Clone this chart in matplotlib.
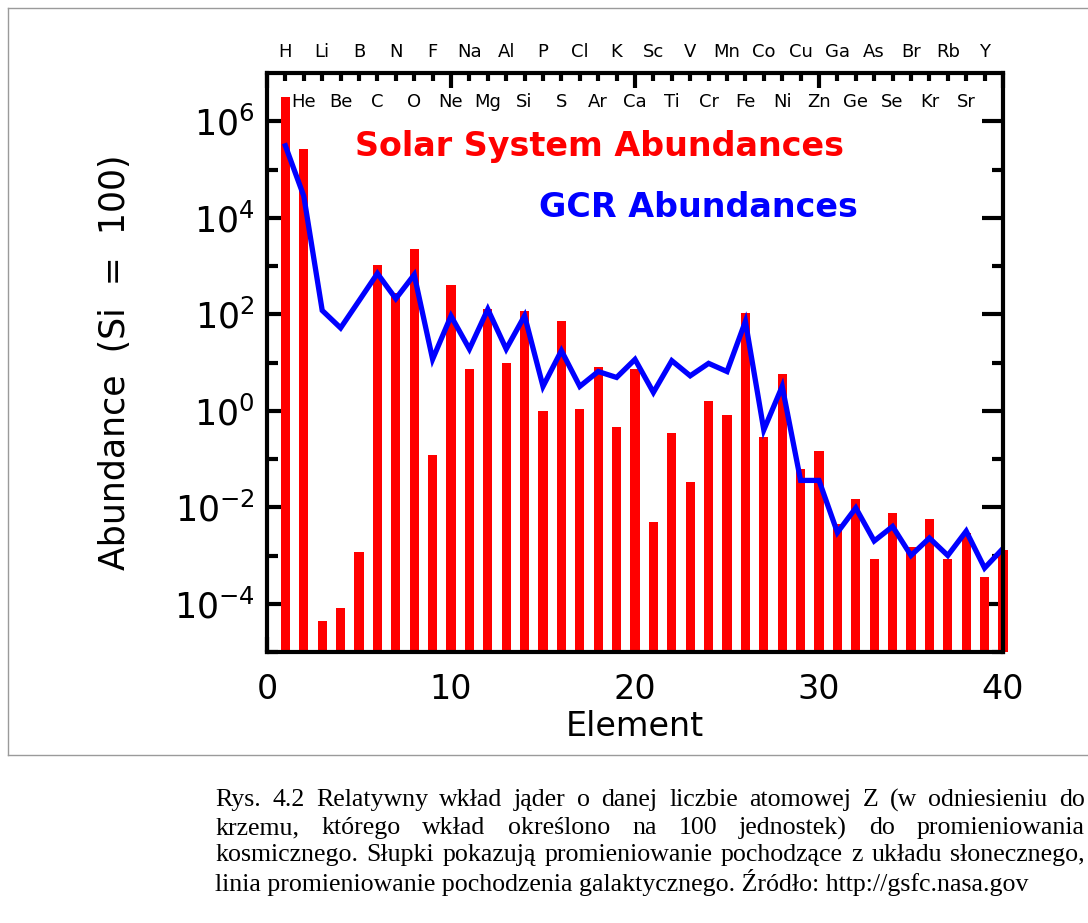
import matplotlib
matplotlib.use("Agg")
import matplotlib.pyplot as plt
import numpy as np
from matplotlib.ticker import FixedLocator, NullFormatter
from matplotlib.lines import Line2D

# ---------------- data ----------------
Z = list(range(1, 41))
solar = [3.2e6, 2.6e5, 4.3e-5, 8.3e-5, 1.2e-3, 1.05e3, 2.7e2, 2.2e3, 0.12, 4.0e2,
         7.3, 1.27e2, 9.8, 1.15e2, 0.97, 71, 1.08, 7.9, 0.45, 7.3,
         5.0e-3, 0.34, 0.034, 1.56, 0.80, 1.05e2, 0.28, 5.9, 0.062, 0.146,
         4.5e-3, 0.015, 8.3e-4, 7.5e-3, 1.5e-3, 5.6e-3, 8.3e-4, 2.9e-3, 3.5e-4, 1.3e-3]
gcr = [3.1e5, 2.8e4, 120, 52, 190, 700, 210, 660, 11.7, 92,
       19, 127, 19, 93, 3.2, 17.6, 3.2, 6.5, 4.9, 11.6,
       2.4, 10.9, 5.3, 9.6, 6.5, 71, 0.40, 3.2, 0.036, 0.036,
       3.0e-3, 9.7e-3, 2.0e-3, 4.0e-3, 1.0e-3, 2.3e-3, 1.0e-3, 3.2e-3, 5.5e-4, 1.4e-3]
symbols_odd = ["H", "Li", "B", "N", "F", "Na", "Al", "P", "Cl", "K",
               "Sc", "V", "Mn", "Co", "Cu", "Ga", "As", "Br", "Rb", "Y"]
symbols_even = ["He", "Be", "C", "O", "Ne", "Mg", "Si", "S", "Ar", "Ca",
                "Ti", "Cr", "Fe", "Ni", "Zn", "Ge", "Se", "Kr", "Sr"]
x_ticks = [0, 10, 20, 30, 40]
y_major = [1e-4, 1e-2, 1e0, 1e2, 1e4, 1e6]
y_minor = [1e-5, 1e-3, 1e-1, 1e1, 1e3, 1e5]
y_labels = [r"$\mathregular{10^{-4}}$", r"$\mathregular{10^{-2}}$", r"$\mathregular{10^{0}}$",
            r"$\mathregular{10^{2}}$", r"$\mathregular{10^{4}}$", r"$\mathregular{10^{6}}$"]
caption = [
    "Rys. 4.2 Relatywny wkład jąder o danej liczbie atomowej Z (w odniesieniu do",
    "krzemu, którego wkład określono na 100 jednostek) do promieniowania",
    "kosmicznego. Słupki pokazują promieniowanie pochodzące z układu słonecznego,",
    "linia promieniowanie pochodzenia galaktycznego. Źródło: http://gsfc.nasa.gov",
]

W, H = 1088, 923
fig = plt.figure(figsize=(W / 100, H / 100), dpi=100)
fig.patch.set_facecolor("white")

# frame around the picture
frame_col = "#9a9a9a"
fig.add_artist(Line2D([8 / W, 1.0], [1 - 8 / H, 1 - 8 / H], transform=fig.transFigure, color=frame_col, lw=1))
fig.add_artist(Line2D([8 / W, 8 / W], [1 - 8 / H, 1 - 755 / H], transform=fig.transFigure, color=frame_col, lw=1))
fig.add_artist(Line2D([8 / W, 1.0], [1 - 755 / H, 1 - 755 / H], transform=fig.transFigure, color=frame_col, lw=1))

ax_l, ax_r, ax_t, ax_b = 267, 1003, 73, 652
ax = fig.add_axes([ax_l / W, 1 - ax_b / H, (ax_r - ax_l) / W, (ax_b - ax_t) / H])

ax.set_yscale("log")
ax.set_xlim(0, 40)
ax.set_ylim(1e-5, 1e7)

ax.bar(Z, np.array(solar) - 1e-5, width=0.5, bottom=1e-5, color="#ff0000", edgecolor="none",
       zorder=2, clip_on=False)
ax.plot(Z, gcr, color="#0000ff", lw=3.8, zorder=3, solid_joinstyle="miter")

ax.yaxis.set_major_locator(FixedLocator(y_major))
ax.yaxis.set_minor_locator(FixedLocator(y_minor))
ax.set_yticklabels(y_labels)
ax.yaxis.set_minor_formatter(NullFormatter())
ax.xaxis.set_major_locator(FixedLocator(x_ticks))
ax.xaxis.set_minor_locator(FixedLocator(Z))
ax.set_xticklabels([str(v) for v in x_ticks])

ax.tick_params(axis="both", which="both", direction="in", top=True, right=True, color="black")
ax.tick_params(axis="y", which="major", length=15, width=3, labelsize=25, pad=9)
ax.tick_params(axis="y", which="minor", length=8, width=3)
ax.tick_params(axis="x", which="major", length=11, width=3, labelsize=24, pad=15)
ax.tick_params(axis="x", which="minor", length=6, width=3)
for s in ax.spines.values():
    s.set_linewidth(3)
    s.set_zorder(5)

ax.set_xlabel("Element", fontsize=24, labelpad=3)
ax.set_ylabel("Abundance  (Si  =  100)", fontsize=25, labelpad=30)

# element symbols
for i, s in enumerate(symbols_odd):
    ax.text(2 * i + 1, 1.037, s, transform=ax.get_xaxis_transform(), ha="center", va="center",
            fontsize=13, color="black")
for i, s in enumerate(symbols_even):
    ax.text(2 * i + 2, 0.950, s, transform=ax.get_xaxis_transform(), ha="center", va="center",
            fontsize=13, color="black")

ax.text(0.452, 0.873, "Solar System Abundances", transform=ax.transAxes, ha="center", va="center",
        fontsize=24, color="#ff0000", fontweight="bold")
ax.text(0.586, 0.767, "GCR Abundances", transform=ax.transAxes, ha="center", va="center",
        fontsize=24, color="#0000ff", fontweight="bold")

# caption, justified
cap_left, cap_right = 215, 1085
cap_y = [800, 828, 855, 882]
cap_font = dict(family="Liberation Serif", fontsize=18.6, color="black")
renderer = fig.canvas.get_renderer()
for li, line in enumerate(caption):
    yf = 1 - cap_y[li] / H
    if li < len(caption) - 1:
        words = line.split(" ")
        widths = []
        for w in words:
            t = fig.text(0, 0, w, **cap_font)
            widths.append(t.get_window_extent(renderer).width)
            t.remove()
        gap = (cap_right - cap_left - sum(widths)) / (len(words) - 1)
        x = cap_left
        for w, wd in zip(words, widths):
            fig.text(x / W, yf, w, ha="left", va="center", **cap_font)
            x += wd + gap
    else:
        fig.text(cap_left / W, yf, line, ha="left", va="center", **cap_font)

fig.savefig("out.png", dpi=100, facecolor="white")
